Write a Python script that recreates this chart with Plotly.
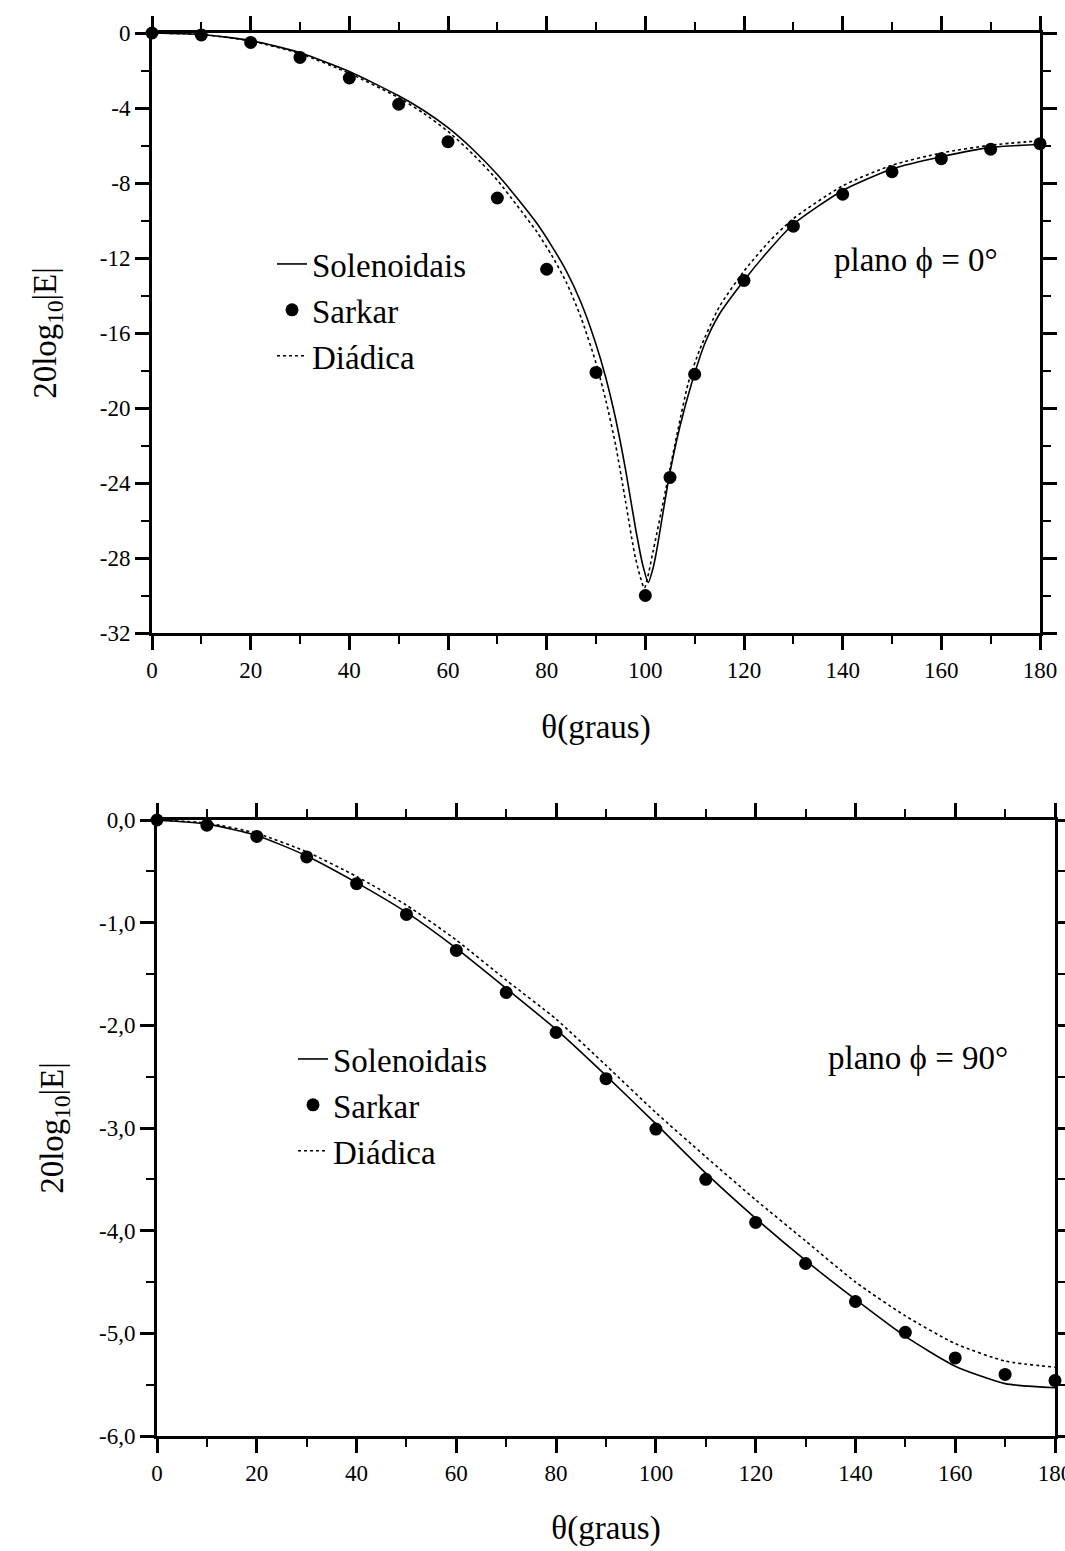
import plotly.graph_objects as go

# ---------------- data ----------------
# Top panel: plano phi = 0
sarkar0_theta = [0, 10, 20, 30, 40, 50, 60, 70, 80, 90, 100, 105, 110, 120, 130, 140, 150, 160, 170, 180]
sarkar0_val = [0, -0.1, -0.5, -1.3, -2.4, -3.8, -5.8, -8.8, -12.6, -18.1, -30.0, -23.7, -18.2,
               -13.2, -10.3, -8.6, -7.4, -6.7, -6.2, -5.9]

solen0_theta = [0, 10, 20, 30, 40, 50, 55, 60, 65, 70, 74, 78, 81, 84, 87, 90, 92, 94, 96, 98,
                99.5, 100.6, 101.6, 102.3, 104.8, 107, 109.4, 112, 115, 120, 125, 130, 140, 150,
                160, 170, 180]
solen0_val = [0, -0.08, -0.4, -1.05, -2.05, -3.35, -4.12, -5.05, -6.2, -7.55, -8.8, -10.15, -11.35,
              -12.7, -14.4, -16.6, -18.4, -20.6, -23.3, -26.4, -28.4, -29.3, -28.5, -27.6, -23.7,
              -21.0, -18.67, -16.6, -15.0, -13.2, -11.6, -10.2, -8.4, -7.25, -6.6, -6.1, -5.95]

diad0_theta = [0, 10, 20, 30, 40, 50, 55, 60, 65, 70, 74, 78, 81, 84, 87, 90, 92, 94, 96, 98,
               99.8, 101.6, 104.4, 106.5, 108.7, 111, 115, 120, 125, 130, 140, 150, 160,
               170, 180]
diad0_val = [0, -0.08, -0.42, -1.1, -2.15, -3.45, -4.27, -5.25, -6.45, -7.85, -9.2, -10.6, -11.85,
             -13.3, -15.2, -17.6, -19.6, -22.0, -25.0, -28.0, -29.6, -27.6, -24.0, -21.3,
             -18.67, -16.9, -14.6, -12.7, -11.15, -9.9, -8.15, -7.05, -6.4, -5.98, -5.75]

# Bottom panel: plano phi = 90
theta10 = [0, 10, 20, 30, 40, 50, 60, 70, 80, 90, 100, 110, 120, 130, 140, 150, 160, 170, 180]
sarkar90_val = [0, -0.05, -0.16, -0.36, -0.62, -0.92, -1.27, -1.68, -2.07, -2.52, -3.01, -3.50,
                -3.92, -4.32, -4.69, -4.99, -5.24, -5.40, -5.46]
solen90_val = [0, -0.04, -0.15, -0.35, -0.61, -0.90, -1.25, -1.64, -2.04, -2.49, -2.96, -3.44,
               -3.88, -4.29, -4.67, -5.03, -5.32, -5.49, -5.53]
diad90_val = [0, -0.03, -0.13, -0.31, -0.55, -0.83, -1.17, -1.56, -1.94, -2.39, -2.85, -3.28,
              -3.70, -4.10, -4.50, -4.83, -5.10, -5.27, -5.33]

x_ticks = [0, 20, 40, 60, 80, 100, 120, 140, 160, 180]
y0_ticks = [0, -4, -8, -12, -16, -20, -24, -28, -32]
y0_ticktext = ["0", "-4", "-8", "-12", "-16", "-20", "-24", "-28", "-32"]
y90_ticks = [0, -1, -2, -3, -4, -5, -6]
y90_ticktext = ["0,0", "-1,0", "-2,0", "-3,0", "-4,0", "-5,0", "-6,0"]

# ---------------- figure ----------------
W, H = 1065, 1551
FONT = "Liberation Serif, Times New Roman, serif"


def px_x(p):
    return p / W


def px_y(p):
    return 1 - p / H


fig = go.Figure()

line_solid = dict(color="black", width=1.6, shape="spline", smoothing=0.6)
line_dot = dict(color="black", width=1.6, dash="dot", shape="spline", smoothing=0.6)
marker = dict(color="black", size=13, symbol="circle")

# top
fig.add_trace(go.Scatter(x=solen0_theta, y=solen0_val, mode="lines", name="Solenoidais",
                         line=line_solid, xaxis="x", yaxis="y", legend="legend"))
fig.add_trace(go.Scatter(x=sarkar0_theta, y=sarkar0_val, mode="markers", name="Sarkar",
                         marker=marker, xaxis="x", yaxis="y", legend="legend", cliponaxis=False))
fig.add_trace(go.Scatter(x=diad0_theta, y=diad0_val, mode="lines", name="Diádica",
                         line=line_dot, xaxis="x", yaxis="y", legend="legend"))
# bottom
fig.add_trace(go.Scatter(x=theta10, y=solen90_val, mode="lines", name="Solenoidais",
                         line=line_solid, xaxis="x2", yaxis="y2", legend="legend2"))
fig.add_trace(go.Scatter(x=theta10, y=sarkar90_val, mode="markers", name="Sarkar",
                         marker=marker, xaxis="x2", yaxis="y2", legend="legend2", cliponaxis=False))
fig.add_trace(go.Scatter(x=theta10, y=diad90_val, mode="lines", name="Diádica",
                         line=line_dot, xaxis="x2", yaxis="y2", legend="legend2"))

tickfont = dict(family=FONT, size=23, color="black")
titlefont = dict(family=FONT, size=33, color="black")

common = dict(showline=True, linewidth=3, linecolor="black", mirror="ticks",
              ticks="outside", ticklen=14, tickwidth=2.5, tickcolor="black",
              showgrid=False, zeroline=False, tickfont=tickfont, fixedrange=True,
              automargin=False)

xaxis_common = dict(common, range=[0, 180], tickvals=x_ticks, ticklabeloverflow="allow",
                    minor=dict(ticks="outside", ticklen=8, tickwidth=2, tickcolor="black",
                               dtick=10, tick0=0, showgrid=False))

legend_font = dict(family=FONT, size=33, color="black")
note_font = dict(family=FONT, size=33, color="black")

fig.update_layout(
    width=W, height=H,
    autosize=False,
    margin=dict(l=0, r=0, t=0, b=0, pad=0, autoexpand=False),
    paper_bgcolor="white", plot_bgcolor="white",
    font=dict(family=FONT, color="black"),
    xaxis=dict(xaxis_common, domain=[px_x(152), px_x(1040)], anchor="y",
               title=dict(text="θ(graus)", font=titlefont, standoff=34)),
    yaxis=dict(common, domain=[px_y(633), px_y(33)], anchor="x", range=[-32, 0],
               tickvals=y0_ticks, ticktext=y0_ticktext,
               minor=dict(ticks="outside", ticklen=8, tickwidth=2, tickcolor="black",
                          dtick=2, tick0=0, showgrid=False),
               title=dict(text="20log<sub>10</sub>|E|", font=titlefont, standoff=34)),
    xaxis2=dict(xaxis_common, domain=[px_x(157), px_x(1055)], anchor="y2",
                title=dict(text="θ(graus)", font=titlefont, standoff=32)),
    yaxis2=dict(common, domain=[px_y(1436), px_y(820)], anchor="x2", range=[-6, 0],
                tickvals=y90_ticks, ticktext=y90_ticktext,
                minor=dict(ticks="outside", ticklen=8, tickwidth=2, tickcolor="black",
                           dtick=0.5, tick0=0, showgrid=False),
                title=dict(text="20log<sub>10</sub>|E|", font=titlefont, standoff=26)),
    legend=dict(x=px_x(272), y=px_y(236), xanchor="left", yanchor="top",
                bgcolor="rgba(0,0,0,0)", borderwidth=0, font=legend_font, itemwidth=30),
    legend2=dict(x=px_x(293), y=px_y(1031), xanchor="left", yanchor="top",
                 bgcolor="rgba(0,0,0,0)", borderwidth=0, font=legend_font, itemwidth=30),
    showlegend=True,
    annotations=[
        dict(text="plano ϕ = 0°", x=px_x(916), y=px_y(260), xref="paper", yref="paper",
             xanchor="center", yanchor="middle", showarrow=False, font=note_font),
        dict(text="plano ϕ = 90°", x=px_x(918), y=px_y(1058), xref="paper", yref="paper",
             xanchor="center", yanchor="middle", showarrow=False, font=note_font),
    ],
)

fig.write_html("out.html")
